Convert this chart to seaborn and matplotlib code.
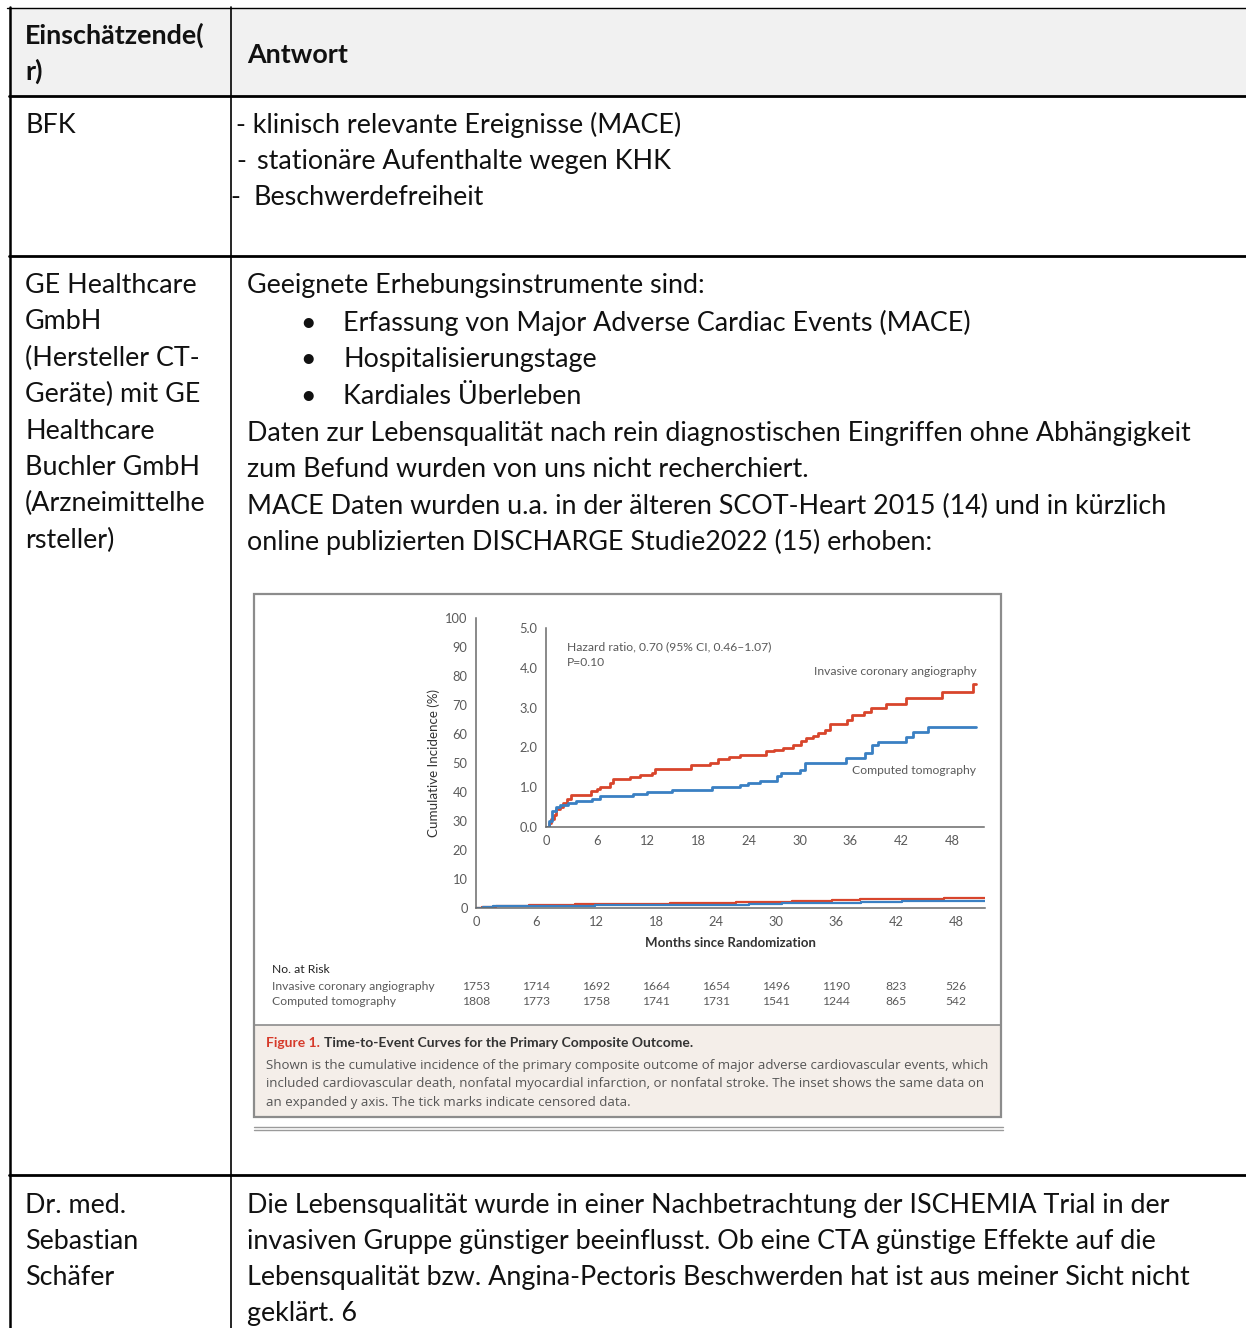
import matplotlib
matplotlib.use("Agg")
import matplotlib.pyplot as plt
import matplotlib.transforms as mtransforms
import numpy as np
import pandas as pd
import seaborn as sns

W, H = 1246, 1328

# ---- data (cumulative incidence, %) ----
ica_months = [0, 0.3, 0.6, 0.9, 1.2, 1.6, 2.0, 2.5, 3.0, 5.3, 6.0, 6.4, 7.6, 7.95,
              9.9, 11.1, 12.5, 12.9, 17.2, 19.4, 20.3, 21.7, 22.9, 26.0, 27.0, 28.0,
              29.2, 30.2, 30.8, 31.6, 32.2, 33.0, 33.6, 35.6, 36.2, 37.6, 38.4, 40.2,
              42.6, 46.8, 50.5, 50.9]
ica_inc = [0, 0.1, 0.2, 0.3, 0.45, 0.5, 0.6, 0.7, 0.8, 0.9, 0.95, 1.0, 1.1, 1.2,
           1.25, 1.3, 1.35, 1.45, 1.55, 1.6, 1.7, 1.75, 1.8, 1.9, 1.94, 1.98,
           2.05, 2.15, 2.23, 2.29, 2.35, 2.44, 2.58, 2.69, 2.81, 2.90, 3.00, 3.10,
           3.23, 3.39, 3.60, 3.60]
ct_months = [0, 0.3, 0.7, 1.2, 1.7, 2.6, 3.6, 5.4, 6.4, 10.3, 11.9, 14.9, 19.6, 22.9,
             23.9, 25.3, 27.3, 27.8, 30.0, 30.6, 35.5, 37.7, 38.5, 39.3, 42.6, 43.4,
             45.2, 50.9]
ct_inc = [0, 0.15, 0.4, 0.5, 0.55, 0.6, 0.65, 0.7, 0.77, 0.84, 0.89, 0.94, 1.0, 1.06,
          1.10, 1.16, 1.27, 1.35, 1.44, 1.60, 1.73, 1.85, 2.06, 2.14, 2.27, 2.39,
          2.52, 2.52]

group_names = ["Invasive coronary angiography", "Computed tomography"]
risk_months = [0, 6, 12, 18, 24, 30, 36, 42, 48]
risk_ica = [1753, 1714, 1692, 1664, 1654, 1496, 1190, 823, 526]
risk_ct = [1808, 1773, 1758, 1741, 1731, 1541, 1244, 865, 542]

hazard_text = "Hazard ratio, 0.70 (95% CI, 0.46\u20131.07)"
p_text = "P=0.10"
caption_title = "Time-to-Event Curves for the Primary Composite Outcome."
caption_lines = [
    "Shown is the cumulative incidence of the primary composite outcome of major adverse cardiovascular events, which",
    "included cardiovascular death, nonfatal myocardial infarction, or nonfatal stroke. The inset shows the same data on",
    "an expanded y axis. The tick marks indicate censored data.",
]

header = ["Einschätzende(\nr)", "Antwort"]
row1_left = ["BFK"]
row2_left = ["GE Healthcare", "GmbH", "(Hersteller CT-", "Geräte) mit GE", "Healthcare",
             "Buchler GmbH", "(Arzneimittelhe", "rsteller)"]
row2_intro = "Geeignete Erhebungsinstrumente sind:"
row2_bullets = ["Erfassung von Major Adverse Cardiac Events (MACE)",
                "Hospitalisierungstage", "Kardiales Überleben"]
row2_rest = ["Daten zur Lebensqualität nach rein diagnostischen Eingriffen ohne Abhängigkeit",
             "zum Befund wurden von uns nicht recherchiert.",
             "MACE Daten wurden u.a. in der älteren SCOT-Heart 2015 (14) und in kürzlich",
             "online publizierten DISCHARGE Studie2022 (15) erhoben:"]
row3_left = ["Dr. med.", "Sebastian", "Schäfer"]
row3_right = ["Die Lebensqualität wurde in einer Nachbetrachtung der ISCHEMIA Trial in der",
              "invasiven Gruppe günstiger beeinflusst. Ob eine CTA günstige Effekte auf die",
              "Lebensqualität bzw. Angina-Pectoris Beschwerden hat ist aus meiner Sicht nicht",
              "geklärt. 6"]

df = pd.concat([
    pd.DataFrame({"month": ica_months, "inc": ica_inc, "group": group_names[0]}),
    pd.DataFrame({"month": ct_months, "inc": ct_inc, "group": group_names[1]}),
])

sns.set_style("white")
plt.rcParams["font.family"] = ["Lato", "DejaVu Sans"]

RED, BLUE = "#d8452c", "#3a80c3"
GREY = "#5a5a5a"
palette = {group_names[0]: RED, group_names[1]: BLUE}
FIG_FS = 8.75

fig = plt.figure(figsize=(W / 100, H / 100), dpi=100)


def rect(x0, y0, x1, y1):
    """pixel box (top-left origin) -> figure fraction rect"""
    return [x0 / W, 1 - y1 / H, (x1 - x0) / W, (y1 - y0) / H]


# background axes in pixel coords for the table
bg = fig.add_axes([0, 0, 1, 1])
bg.set_xlim(0, W)
bg.set_ylim(H, 0)
bg.axis("off")

# header shading + rules
bg.add_patch(plt.Rectangle((9, 8), W - 9, 88, color="#f1f1f1", lw=0))
bg.plot([7, W], [7.5, 7.5], color="black", lw=1.0)
for y in (96, 256, 1175):
    bg.plot([9, W], [y, y], color="black", lw=2.0)
bg.plot([9.5, 9.5], [7, H], color="black", lw=1.8)
bg.plot([231, 231], [7, H], color="black", lw=1.2)

FS = 19.4
TXT = "#111111"
bg.text(25, 44, "Einschätzende(", fontsize=FS, fontweight="bold", color=TXT)
bg.text(25, 80, "r)", fontsize=FS, fontweight="bold", color=TXT)
bg.text(247, 63, header[1], fontsize=FS, fontweight="bold", color=TXT)

bg.text(25, 133, row1_left[0], fontsize=FS, color=TXT)
bg.text(236, 133, "- klinisch relevante Ereignisse (MACE)", fontsize=FS, color=TXT)
bg.text(236, 169, "-", fontsize=FS, color=TXT)
bg.text(257, 169, "stationäre Aufenthalte wegen KHK", fontsize=FS, color=TXT)
bg.text(230, 205, "-", fontsize=FS, color=TXT)
bg.text(253, 205, "Beschwerdefreiheit", fontsize=FS, color=TXT)

for i, s in enumerate(row2_left):
    bg.text(25, 293 + 36.4 * i, s, fontsize=FS, color=TXT)
bg.text(247, 293, row2_intro, fontsize=FS, color=TXT)
for i, s in enumerate(row2_bullets):
    y = 330.5 + 36.6 * i
    bg.text(300, y, "\u2022", fontsize=FS, color=TXT)
    bg.text(343, y, s, fontsize=FS, color=TXT)
for i, s in enumerate(row2_rest):
    bg.text(247, 441 + 36.4 * i, s, fontsize=FS, color=TXT)

for i, s in enumerate(row3_left):
    bg.text(25, 1213 + 36 * i, s, fontsize=FS, color=TXT)
for i, s in enumerate(row3_right):
    bg.text(247, 1213 + 36 * i, s, fontsize=FS, color=TXT)

# embedded journal figure frame
bg.add_patch(plt.Rectangle((254, 1025), 747, 92, facecolor="#f4eee9", lw=0))
bg.add_patch(plt.Rectangle((254, 594), 747, 523, fill=False, edgecolor="#8c8c8c", lw=1.6))
bg.plot([254, 1001], [1025, 1025], color="#8c8c8c", lw=1.2)
bg.plot([254, 1003], [1126.5, 1126.5], color="#9a9a9a", lw=1.0)
bg.plot([254, 1003], [1129.5, 1129.5], color="#9a9a9a", lw=1.0)


def style_axes(ax):
    sns.despine(ax=ax)
    for sp in ("left", "bottom"):
        ax.spines[sp].set_color("#6a6a6a")
        ax.spines[sp].set_linewidth(1.1)
    ax.tick_params(direction="out", length=4, width=1, color="#6a6a6a",
                   labelcolor=GREY, labelsize=9.3, pad=2)
    ax.set_xlabel("")
    ax.set_ylabel("")
    ax.patch.set_alpha(0)
    leg = ax.get_legend()
    if leg is not None:
        leg.remove()


# main axes
ax = fig.add_axes(rect(476, 618, 985, 908))
sns.lineplot(data=df, x="month", y="inc", hue="group", palette=palette,
             drawstyle="steps-post", estimator=None, sort=False, lw=1.6, ax=ax)
ax.set_xlim(0, 50.9)
ax.set_ylim(0, 100)
ax.set_xticks(risk_months)
ax.set_yticks(range(0, 101, 10))
style_axes(ax)
ax.set_ylabel("Cumulative Incidence (%)", fontsize=9.6, color="#333333", labelpad=4)
ax.set_xlabel("Months since Randomization", fontsize=9.5, color="#333333",
              fontweight="bold", labelpad=6)

# inset axes
ins = fig.add_axes(rect(546, 628, 984, 827))
sns.lineplot(data=df, x="month", y="inc", hue="group", palette=palette,
             drawstyle="steps-post", estimator=None, sort=False, lw=2.0, ax=ins)
ins.set_xlim(0, 51.8)
ins.set_ylim(0, 5)
ins.set_xticks(risk_months)
ins.set_yticks([0, 1, 2, 3, 4, 5])
ins.set_yticklabels([f"{v:.1f}" for v in [0, 1, 2, 3, 4, 5]])
style_axes(ins)
ins.text(2.5, 4.43, hazard_text, fontsize=FIG_FS, color=GREY)
ins.text(2.5, 4.05, p_text, fontsize=FIG_FS, color=GREY)
ins.text(50.9, 3.83, group_names[0], fontsize=FIG_FS, color=GREY, ha="right")
ins.text(50.9, 1.32, group_names[1], fontsize=FIG_FS, color=GREY, ha="right")

# number at risk
tr = mtransforms.blended_transform_factory(ax.transData, fig.transFigure)
fig.text(272 / W, 1 - 973 / H, "No. at Risk", fontsize=FIG_FS, color="#222222")
fig.text(272 / W, 1 - 990 / H, group_names[0], fontsize=FIG_FS, color=GREY)
fig.text(272 / W, 1 - 1005 / H, group_names[1], fontsize=FIG_FS, color=GREY)
for m, a, b in zip(risk_months, risk_ica, risk_ct):
    ax.text(m, 1 - 990 / H, str(a), transform=tr, fontsize=FIG_FS, color=GREY, ha="center")
    ax.text(m, 1 - 1005 / H, str(b), transform=tr, fontsize=FIG_FS, color=GREY, ha="center")

# caption
t1 = fig.text(266 / W, 1 - 1047 / H, "Figure 1.", fontsize=10, color="#d63a2a",
              fontweight="bold")
fig.canvas.draw()
bb = t1.get_window_extent()
fig.text((bb.x1 + 4) / W, 1 - 1047 / H, caption_title, fontsize=10, color="#333333",
         fontweight="bold")
for i, s in enumerate(caption_lines):
    fig.text(266 / W, 1 - (1069 + 18.5 * i) / H, s, fontsize=9.5, color="#555555",
             family=["Open Sans", "DejaVu Sans"])

fig.savefig("out.png", dpi=100)
